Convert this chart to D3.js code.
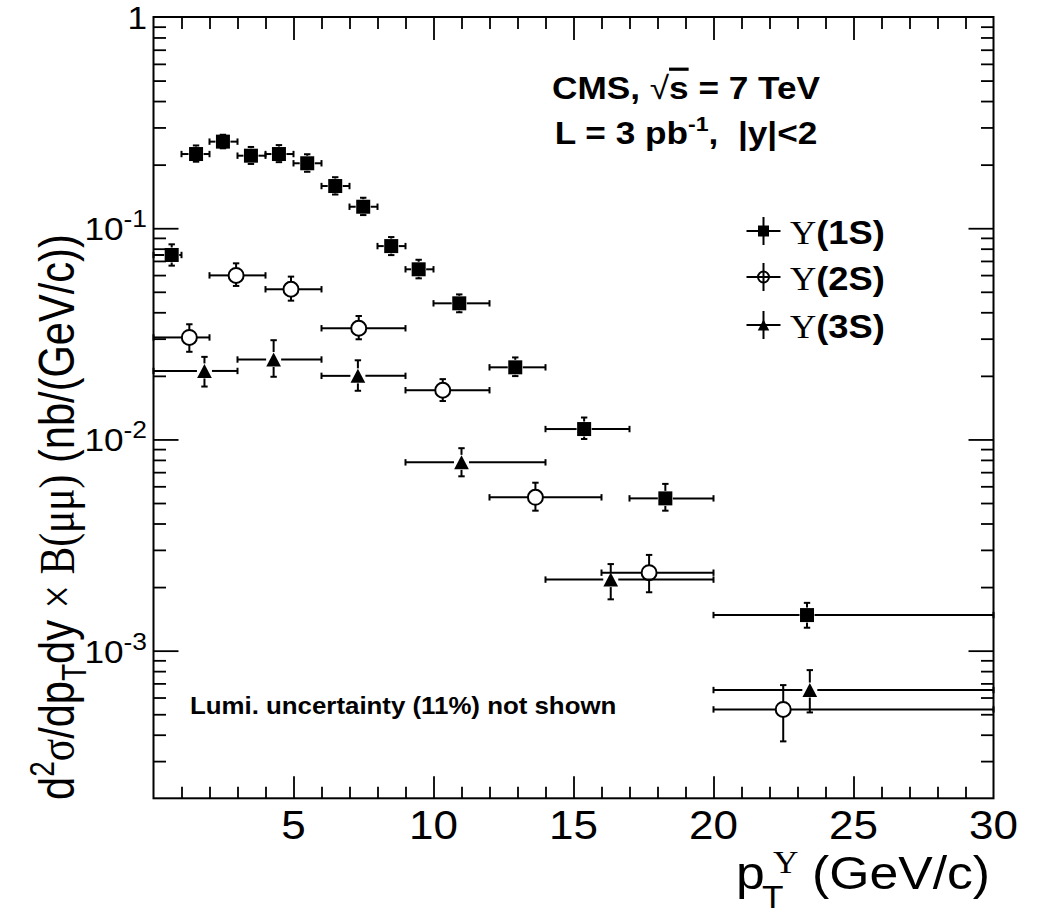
<!DOCTYPE html>
<html>
<head>
<meta charset="utf-8">
<script src="https://cdn.jsdelivr.net/npm/d3@7"></script>
<style>
  body { margin: 0; background: #fff; }
  svg { display: block; }
</style>
</head>
<body>
<svg id="chart" width="1041" height="916"></svg>
<script>
// Upsilon(1S) : pT bin edges, bin centre, cross section and errors
const binLo1S = [0, 1, 2, 3, 4, 5, 6, 7, 8, 9, 10, 12, 14, 17, 20];
const binHi1S = [1, 2, 3, 4, 5, 6, 7, 8, 9, 10, 12, 14, 17, 20, 30];
const pt1S    = [0.65, 1.52, 2.48, 3.48, 4.48, 5.49, 6.49, 7.49, 8.49, 9.47, 10.92, 12.92, 15.38, 18.28, 23.34];
const xs1S    = [0.0747, 0.2245, 0.257, 0.2205, 0.2245, 0.203, 0.1584, 0.1264, 0.0823, 0.0639, 0.0441, 0.02195, 0.0112, 0.00526, 0.001474];
const errUp1S = [0.0092, 0.022, 0.020, 0.022, 0.023, 0.021, 0.016, 0.013, 0.0085, 0.007, 0.0045, 0.0025, 0.0015, 0.0009, 0.00021];
const errDn1S = [0.0082, 0.018, 0.018, 0.019, 0.019, 0.018, 0.014, 0.011, 0.0077, 0.006, 0.0041, 0.0020, 0.00115, 0.00066, 0.00019];

// Upsilon(2S)
const binLo2S = [0, 2, 4, 6, 9, 12, 16, 20];
const binHi2S = [2, 4, 6, 9, 12, 16, 20, 30];
const pt2S    = [1.28, 2.95, 4.91, 7.33, 10.33, 13.64, 17.70, 22.49];
const xs2S    = [0.0304, 0.0598, 0.0514, 0.0336, 0.0171, 0.00532, 0.00234, 0.000527];
const errUp2S = [0.0047, 0.0084, 0.0076, 0.0048, 0.0022, 0.00092, 0.0005, 0.00016];
const errDn2S = [0.0044, 0.0065, 0.0060, 0.0038, 0.0019, 0.00072, 0.00045, 0.000155];

// Upsilon(3S)
const binLo3S = [0, 3, 6, 9, 14, 20];
const binHi3S = [3, 6, 9, 14, 20, 30];
const pt3S    = [1.82, 4.29, 7.30, 11.0, 16.33, 23.44];
const xs3S    = [0.0211, 0.0239, 0.0200, 0.00779, 0.00217, 0.000651];
const errUp3S = [0.0035, 0.0056, 0.0037, 0.0013, 0.0004, 0.000158];
const errDn3S = [0.0033, 0.0041, 0.0030, 0.0011, 0.00042, 0.000141];

// axis ticks and labels
const xMajorTicks = [5, 10, 15, 20, 25, 30];
const xMinorTicks = d3.range(1, 30).filter(v => v % 5 !== 0);
const yMajorTicks = [1e-3, 1e-2, 1e-1];
const yMinorTicks = [3e-4, 4e-4, 5e-4, 6e-4, 7e-4, 8e-4, 9e-4]
  .concat([2,3,4,5,6,7,8,9].map(m => m * 1e-3))
  .concat([2,3,4,5,6,7,8,9].map(m => m * 1e-2))
  .concat([2,3,4,5,6,7,8,9].map(m => m * 1e-1));
const yTickLabels = [
  { v: 1,    base: "1",  exp: null },
  { v: 1e-1, base: "10", exp: "-1" },
  { v: 1e-2, base: "10", exp: "-2" },
  { v: 1e-3, base: "10", exp: "-3" }
];
const legendNames = ["(1S)", "(2S)", "(3S)"];

// ---------------------------------------------------------------
const SANS = "'Liberation Sans', Arial, Helvetica, sans-serif";
const SERIF = "'Liberation Serif', 'Times New Roman', serif";
const SX = 1.1; // horizontal stretch applied to the text

const svg = d3.select("#chart");
const L = 153.5, R = 993.5, T = 17, B = 798.3;

const x = d3.scaleLinear().domain([0, 30]).range([L, R]);
const y = d3.scaleLog().domain([2e-4, 1]).range([B, T]);

// axes (ticks pointing into the frame)
function styleAxis(g) {
  g.select(".domain").remove();
  g.selectAll(".tick line").attr("stroke", "#000").attr("stroke-width", 1.8);
  g.selectAll(".tick text").remove();
}
svg.append("g").attr("transform", `translate(0,${B})`)
  .call(d3.axisBottom(x).tickValues(xMajorTicks.filter(v => v < 30)).tickSize(-22).tickFormat("")).call(styleAxis);
svg.append("g").attr("transform", `translate(0,${B})`)
  .call(d3.axisBottom(x).tickValues(xMinorTicks).tickSize(-11.5).tickFormat("")).call(styleAxis);
svg.append("g").attr("transform", `translate(0,${T})`)
  .call(d3.axisTop(x).tickValues(xMajorTicks.filter(v => v < 30)).tickSize(-23).tickFormat("")).call(styleAxis);
svg.append("g").attr("transform", `translate(0,${T})`)
  .call(d3.axisTop(x).tickValues(xMinorTicks).tickSize(-12).tickFormat("")).call(styleAxis);
svg.append("g").attr("transform", `translate(${L},0)`)
  .call(d3.axisLeft(y).tickValues(yMajorTicks).tickSize(-25).tickFormat("")).call(styleAxis);
svg.append("g").attr("transform", `translate(${L},0)`)
  .call(d3.axisLeft(y).tickValues(yMinorTicks).tickSize(-12.5).tickFormat("")).call(styleAxis);
svg.append("g").attr("transform", `translate(${R},0)`)
  .call(d3.axisRight(y).tickValues(yMajorTicks).tickSize(-25).tickFormat("")).call(styleAxis);
svg.append("g").attr("transform", `translate(${R},0)`)
  .call(d3.axisRight(y).tickValues(yMinorTicks).tickSize(-12.5).tickFormat("")).call(styleAxis);

// frame
svg.append("rect").attr("x", L).attr("y", T).attr("width", R - L).attr("height", B - T)
  .attr("fill", "none").attr("stroke", "#000").attr("stroke-width", 2);

// helper for horizontally stretched text
function label(parent, px, py, anchor, size, weight, family, sx) {
  return parent.append("text")
    .attr("transform", `translate(${px},${py}) scale(${sx || SX},1)`)
    .attr("text-anchor", anchor)
    .attr("font-family", family || SANS)
    .attr("font-size", size)
    .attr("font-weight", weight || "normal")
    .attr("fill", "#000");
}

// x tick labels
xMajorTicks.forEach(v => {
  label(svg, x(v), 839, "middle", 40).text(v);
});

// y tick labels
yTickLabels.forEach(d => {
  const t = label(svg, 147, y(d.v) + 12, "end", 32);
  t.append("tspan").text(d.base);
  if (d.exp) t.append("tspan").attr("font-size", 24).attr("dy", -13).text(d.exp);
});

// x axis title: p_T^Upsilon (GeV/c)
{
  const x0 = 736;
  const lx = sx => (sx - x0) / SX; // screen x -> local x inside the stretched text
  const t = label(svg, x0, 889, "start", 47);
  t.append("tspan").attr("x", 0).text("p");
  t.append("tspan").attr("x", lx(773)).attr("dy", -16).attr("font-family", SERIF).attr("font-size", 32).text("\u03A5");
  t.append("tspan").attr("x", lx(762)).attr("dy", 35).attr("font-size", 32).text("T");
  t.append("tspan").attr("x", lx(812)).attr("dy", -19).text("(GeV/c)");
}

// y axis title (rotated)
{
  const t = svg.append("text")
    .attr("transform", `translate(74,800) scale(1.22,1) rotate(-90)`)
    .attr("font-family", SANS).attr("font-size", 41.6).attr("fill", "#000");
  t.append("tspan").text("d");
  t.append("tspan").attr("font-size", 28).attr("dy", -16).text("2");
  t.append("tspan").attr("font-family", SERIF).attr("dy", 16).text("\u03C3");
  t.append("tspan").text("/dp");
  t.append("tspan").attr("font-size", 28).attr("dy", 10).text("T");
  t.append("tspan").attr("dy", -10).text("dy ");
  t.append("tspan").attr("font-family", SERIF).text("\u00D7 B(\u03BC\u03BC)");
  t.append("tspan").text(" (nb/(GeV/c))");
}

// annotations
{
  const t1 = label(svg, 686, 99, "middle", 32, "bold");
  t1.append("tspan").text("CMS, ");
  t1.append("tspan").attr("font-weight", "normal").text("\u221A");
  t1.append("tspan").attr("text-decoration", "overline").text("s");
  t1.append("tspan").text(" = 7 TeV");

  const t2 = label(svg, 686, 144, "middle", 32, "bold");
  t2.append("tspan").text("L = 3 pb");
  t2.append("tspan").attr("font-size", 21).attr("dy", -13).text("-1");
  t2.append("tspan").attr("dy", 13).text(",\u00A0 |y|<2");

  label(svg, 190, 714, "start", 23.5, "bold").text("Lumi. uncertainty (11%) not shown");
}

// markers
function drawMarker(g, type, cx, cy, s) {
  const h = s / 2;
  if (type === "square") {
    g.append("rect").attr("x", cx - h).attr("y", cy - h).attr("width", s).attr("height", s).attr("fill", "#000");
  } else if (type === "circle") {
    g.append("circle").attr("cx", cx).attr("cy", cy).attr("r", h).attr("fill", "#fff")
      .attr("stroke", "#000").attr("stroke-width", 2);
  } else {
    g.append("path").attr("d", `M${cx},${cy - h}L${cx + h * 1.05},${cy + h}L${cx - h * 1.05},${cy + h}Z`).attr("fill", "#000");
  }
}

function drawSeries(lo, hi, pt, val, up, dn, type) {
  const g = svg.append("g");
  const gap = 7.5, cap = 3.2;
  const line = (x1, y1, x2, y2) => g.append("line").attr("x1", x1).attr("y1", y1).attr("x2", x2).attr("y2", y2)
    .attr("stroke", "#000").attr("stroke-width", 2);
  pt.forEach((p, i) => {
    const cx = x(p), cy = y(val[i]);
    const xl = x(lo[i]), xr = x(hi[i]);
    const yt = y(val[i] + up[i]), yb = y(val[i] - dn[i]);
    if (cx - gap > xl) line(xl, cy, cx - gap, cy);
    if (xr > cx + gap) line(cx + gap, cy, xr, cy);
    line(xl, cy - cap, xl, cy + cap);
    line(xr, cy - cap, xr, cy + cap);
    if (yt < cy - gap) line(cx, yt, cx, cy - gap);
    if (yb > cy + gap) line(cx, cy + gap, cx, yb);
    line(cx - cap, yt, cx + cap, yt);
    line(cx - cap, yb, cx + cap, yb);
  });
  pt.forEach((p, i) => drawMarker(g, type, x(p), y(val[i]), type === "circle" ? 15 : 14));
}

drawSeries(binLo1S, binHi1S, pt1S, xs1S, errUp1S, errDn1S, "square");
drawSeries(binLo2S, binHi2S, pt2S, xs2S, errUp2S, errDn2S, "circle");
drawSeries(binLo3S, binHi3S, pt3S, xs3S, errUp3S, errDn3S, "triangle");

// legend
const legendTypes = ["square", "circle", "triangle"];
const legendY = [231, 277, 325];
legendNames.forEach((name, i) => {
  const g = svg.append("g");
  const cx = 763.5, cy = legendY[i];
  g.append("line").attr("x1", cx - 17).attr("x2", cx + 17).attr("y1", cy).attr("y2", cy).attr("stroke", "#000").attr("stroke-width", 2);
  g.append("line").attr("x1", cx).attr("x2", cx).attr("y1", cy - 14).attr("y2", cy + 14).attr("stroke", "#000").attr("stroke-width", 2);
  if (legendTypes[i] === "circle") {
    g.append("circle").attr("cx", cx).attr("cy", cy).attr("r", 5.5).attr("fill", "none").attr("stroke", "#000").attr("stroke-width", 2);
  } else {
    drawMarker(g, legendTypes[i], cx, cy, 11);
  }
  const t = label(svg, 790, cy + 13, "start", 33, "bold");
  t.append("tspan").attr("font-family", SERIF).attr("font-weight", "normal").text("\u03A5");
  t.append("tspan").text(name);
});
</script>
</body>
</html>
